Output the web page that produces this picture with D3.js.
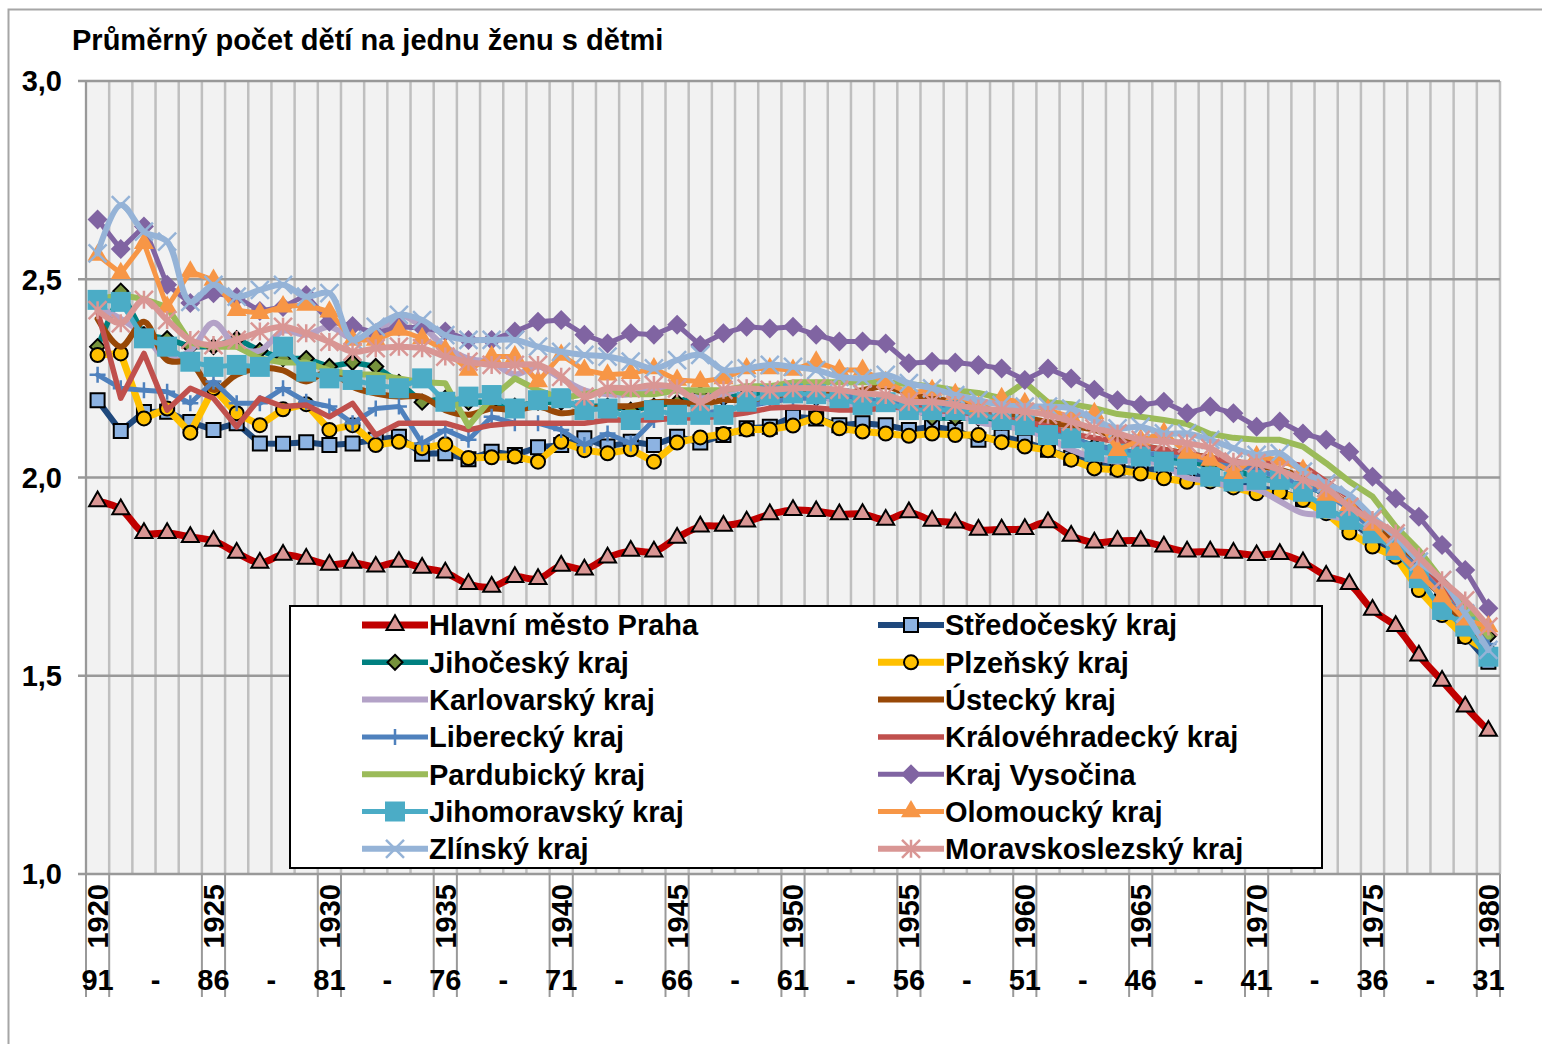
<!DOCTYPE html>
<html>
<head>
<meta charset="utf-8">
<script src="https://cdn.jsdelivr.net/npm/d3@7"></script>
<style>
	body { margin: 0; background: #fff; }
	text { font-family: "Liberation Sans", Arial, sans-serif; font-weight: bold; fill: #000; }
</style>
</head>
<body>
<svg id="chart" width="1542" height="1044"></svg>
<script>
// categories: 1920 .. 1980
const years = d3.range(1920, 1981);
const labelYears = [1920, 1925, 1930, 1935, 1940, 1945, 1950, 1955, 1960, 1965, 1970, 1975, 1980];
const cohortLabels = ["91", "86", "81", "76", "71", "66", "61", "56", "51", "46", "41", "36", "31"];
const yTicks = [1.0, 1.5, 2.0, 2.5, 3.0];

const praha = [1.94, 1.92, 1.86, 1.86, 1.85, 1.84, 1.81, 1.785, 1.805, 1.795,
	1.78, 1.785, 1.775, 1.787, 1.772, 1.76, 1.731, 1.724, 1.749, 1.744,
	1.777, 1.768, 1.798, 1.815, 1.813, 1.848, 1.876, 1.878, 1.889, 1.907,
	1.918, 1.915, 1.907, 1.908, 1.893, 1.912, 1.891, 1.886, 1.868, 1.869,
	1.87, 1.887, 1.853, 1.836, 1.84, 1.84, 1.826, 1.813, 1.813, 1.81,
	1.804, 1.807, 1.786, 1.752, 1.731, 1.666, 1.625, 1.551, 1.487, 1.422, 1.361];
const stredocesky = [2.195, 2.117, 2.165, 2.166, 2.14, 2.12, 2.137, 2.086, 2.085, 2.089,
	2.082, 2.086, 2.095, 2.103, 2.06, 2.061, 2.046, 2.065, 2.057, 2.076,
	2.082, 2.099, 2.078, 2.09, 2.082, 2.103, 2.088, 2.107, 2.124, 2.128,
	2.153, 2.149, 2.132, 2.137, 2.132, 2.12, 2.128, 2.12, 2.095, 2.103,
	2.09, 2.07, 2.05, 2.04, 2.025, 2.02, 2.02, 2.015, 2.0, 1.985,
	1.975, 1.965, 1.945, 1.92, 1.89, 1.85, 1.81, 1.76, 1.70, 1.60, 1.535];
const jihocesky = [2.33, 2.47, 2.36, 2.35, 2.33, 2.33, 2.35, 2.32, 2.30, 2.30,
	2.28, 2.29, 2.28, 2.24, 2.19, 2.20, 2.19, 2.19, 2.18, 2.19,
	2.19, 2.18, 2.18, 2.17, 2.18, 2.19, 2.21, 2.20, 2.21, 2.21,
	2.21, 2.20, 2.20, 2.19, 2.19, 2.18, 2.15, 2.15, 2.15, 2.14,
	2.13, 2.12, 2.10, 2.08, 2.07, 2.06, 2.05, 2.04, 2.03, 2.02,
	2.00, 1.99, 1.98, 1.96, 1.93, 1.88, 1.83, 1.79, 1.73, 1.66, 1.60];
const plzensky = [2.309, 2.313, 2.149, 2.174, 2.113, 2.225, 2.162, 2.132, 2.172, 2.185,
	2.12, 2.132, 2.082, 2.09, 2.074, 2.084, 2.049, 2.051, 2.053, 2.04,
	2.09, 2.069, 2.061, 2.071, 2.04, 2.088, 2.101, 2.11, 2.121, 2.121,
	2.131, 2.151, 2.124, 2.116, 2.111, 2.105, 2.111, 2.107, 2.107, 2.089,
	2.078, 2.069, 2.045, 2.023, 2.019, 2.01, 1.998, 1.989, 1.99, 1.975,
	1.96, 1.962, 1.943, 1.91, 1.861, 1.826, 1.80, 1.716, 1.653, 1.598, 1.56];
const karlovarsky = [2.43, 2.40, 2.36, 2.30, 2.32, 2.39, 2.33, 2.32, 2.37, 2.36,
	2.38, 2.35, 2.36, 2.41, 2.38, 2.33, 2.30, 2.29, 2.26, 2.28,
	2.25, 2.22, 2.21, 2.21, 2.22, 2.22, 2.20, 2.21, 2.23, 2.22,
	2.22, 2.21, 2.19, 2.18, 2.18, 2.17, 2.16, 2.16, 2.14, 2.13,
	2.12, 2.10, 2.07, 2.05, 2.04, 2.045, 2.03, 2.00, 1.99, 1.975,
	1.97, 1.94, 1.91, 1.905, 1.89, 1.86, 1.82, 1.78, 1.72, 1.65, 1.57];
const ustecky = [2.40, 2.33, 2.393, 2.296, 2.29, 2.221, 2.259, 2.276, 2.27, 2.242,
	2.27, 2.229, 2.212, 2.204, 2.204, 2.17, 2.158, 2.174, 2.17, 2.179,
	2.162, 2.17, 2.18, 2.18, 2.19, 2.19, 2.185, 2.195, 2.195, 2.20,
	2.21, 2.21, 2.21, 2.22, 2.23, 2.21, 2.20, 2.19, 2.18, 2.16,
	2.15, 2.14, 2.13, 2.12, 2.10, 2.08, 2.07, 2.06, 2.05, 2.04,
	2.03, 2.02, 2.00, 1.97, 1.93, 1.88, 1.83, 1.77, 1.70, 1.63, 1.57];
const liberecky = [2.259, 2.225, 2.22, 2.216, 2.187, 2.242, 2.187, 2.187, 2.225, 2.191,
	2.179, 2.137, 2.174, 2.179, 2.086, 2.12, 2.095, 2.153, 2.137, 2.137,
	2.12, 2.082, 2.111, 2.086, 2.145, 2.153, 2.16, 2.17, 2.18, 2.19,
	2.20, 2.20, 2.21, 2.20, 2.19, 2.19, 2.18, 2.17, 2.16, 2.15,
	2.14, 2.12, 2.10, 2.08, 2.07, 2.06, 2.06, 2.05, 2.04, 2.03,
	2.02, 2.00, 1.98, 1.96, 1.92, 1.87, 1.82, 1.77, 1.71, 1.64, 1.58];
const kralovehradecky = [2.42, 2.20, 2.313, 2.17, 2.225, 2.20, 2.128, 2.20, 2.179, 2.183,
	2.153, 2.187, 2.107, 2.137, 2.137, 2.137, 2.12, 2.132, 2.137, 2.137,
	2.137, 2.137, 2.145, 2.145, 2.145, 2.15, 2.15, 2.155, 2.163, 2.175,
	2.178, 2.175, 2.17, 2.17, 2.175, 2.18, 2.17, 2.165, 2.16, 2.15,
	2.14, 2.13, 2.11, 2.10, 2.09, 2.08, 2.07, 2.06, 2.05, 2.04,
	2.035, 2.04, 2.03, 1.99, 1.95, 1.90, 1.85, 1.79, 1.73, 1.66, 1.60];
const pardubicky = [2.45, 2.46, 2.45, 2.43, 2.34, 2.33, 2.33, 2.30, 2.29, 2.29,
	2.27, 2.26, 2.26, 2.25, 2.24, 2.238, 2.13, 2.20, 2.25, 2.22,
	2.20, 2.21, 2.22, 2.21, 2.21, 2.22, 2.22, 2.22, 2.23, 2.23,
	2.24, 2.24, 2.24, 2.24, 2.24, 2.235, 2.23, 2.22, 2.213, 2.20,
	2.24, 2.19, 2.185, 2.175, 2.16, 2.153, 2.145, 2.135, 2.11, 2.10,
	2.095, 2.095, 2.078, 2.036, 1.99, 1.952, 1.876, 1.817, 1.741, 1.674, 1.599];
const vysocina = [2.651, 2.576, 2.633, 2.486, 2.44, 2.465, 2.455, 2.42, 2.43, 2.46,
	2.393, 2.382, 2.364, 2.38, 2.377, 2.368, 2.347, 2.347, 2.368, 2.393,
	2.397, 2.36, 2.338, 2.364, 2.36, 2.385, 2.334, 2.364, 2.38, 2.376,
	2.38, 2.36, 2.343, 2.343, 2.338, 2.288, 2.292, 2.29, 2.284, 2.275,
	2.246, 2.275, 2.25, 2.221, 2.195, 2.183, 2.191, 2.162, 2.179, 2.162,
	2.128, 2.141, 2.111, 2.095, 2.065, 2.002, 1.947, 1.901, 1.83, 1.767, 1.67];
const jihomoravsky = [2.448, 2.443, 2.351, 2.33, 2.292, 2.279, 2.284, 2.279, 2.33, 2.267,
	2.25, 2.246, 2.233, 2.225, 2.25, 2.191, 2.204, 2.208, 2.174, 2.195,
	2.20, 2.17, 2.174, 2.145, 2.17, 2.158, 2.158, 2.158, 2.191, 2.208,
	2.212, 2.21, 2.20, 2.183, 2.19, 2.17, 2.17, 2.17, 2.16, 2.145,
	2.132, 2.107, 2.099, 2.065, 2.06, 2.053, 2.04, 2.032, 2.002, 1.99,
	1.994, 1.994, 1.964, 1.922, 1.893, 1.859, 1.817, 1.746, 1.666, 1.624, 1.548];
const olomoucky = [2.561, 2.515, 2.591, 2.43, 2.519, 2.498, 2.422, 2.414, 2.431, 2.435,
	2.418, 2.347, 2.347, 2.372, 2.351, 2.322, 2.271, 2.305, 2.305, 2.242,
	2.309, 2.271, 2.259, 2.263, 2.275, 2.246, 2.242, 2.25, 2.275, 2.275,
	2.271, 2.292, 2.271, 2.271, 2.24, 2.213, 2.22, 2.21, 2.179, 2.20,
	2.187, 2.17, 2.153, 2.162, 2.069, 2.095, 2.112, 2.062, 2.044, 2.011,
	2.053, 2.044, 2.019, 1.956, 1.93, 1.88, 1.817, 1.759, 1.70, 1.641, 1.624];
const zlinsky = [2.565, 2.687, 2.62, 2.595, 2.443, 2.486, 2.456, 2.473, 2.486, 2.456,
	2.465, 2.347, 2.38, 2.41, 2.397, 2.359, 2.347, 2.347, 2.347, 2.33,
	2.317, 2.309, 2.305, 2.292, 2.275, 2.296, 2.309, 2.271, 2.275, 2.284,
	2.279, 2.271, 2.254, 2.25, 2.259, 2.238, 2.225, 2.208, 2.195, 2.183,
	2.179, 2.179, 2.174, 2.145, 2.124, 2.128, 2.111, 2.111, 2.095, 2.074,
	2.057, 2.061, 2.015, 1.985, 1.956, 1.901, 1.851, 1.788, 1.741, 1.657, 1.565];
const moravskoslezsky = [2.422, 2.389, 2.448, 2.397, 2.347, 2.334, 2.347, 2.368, 2.38, 2.364,
	2.342, 2.317, 2.326, 2.33, 2.326, 2.305, 2.292, 2.284, 2.284, 2.284,
	2.254, 2.204, 2.225, 2.225, 2.233, 2.225, 2.191, 2.221, 2.225, 2.221,
	2.225, 2.225, 2.221, 2.212, 2.208, 2.191, 2.191, 2.183, 2.174, 2.17,
	2.166, 2.158, 2.141, 2.124, 2.111, 2.095, 2.091, 2.086, 2.074, 2.04,
	2.036, 2.019, 1.994, 1.973, 1.926, 1.893, 1.859, 1.80, 1.741, 1.69, 1.624];

const series = [
	{ name: "Hlavní město Praha", values: praha, color: "#C00000", width: 7, marker: "triangle", size: 17, fill: "#DA9694", stroke: "#000", smooth: true },
	{ name: "Středočeský kraj", values: stredocesky, color: "#1F497D", width: 6, marker: "square", size: 14, fill: "#8DB3E2", stroke: "#000" },
	{ name: "Jihočeský kraj", values: jihocesky, color: "#008080", width: 5.5, marker: "diamond", size: 15, fill: "#77933C", stroke: "#000" },
	{ name: "Plzeňský kraj", values: plzensky, color: "#FFC000", width: 7, marker: "circle", size: 14, fill: "#FFC000", stroke: "#000" },
	{ name: "Karlovarský kraj", values: karlovarsky, color: "#B3A2C7", width: 6, marker: null, smooth: true },
	{ name: "Ústecký kraj", values: ustecky, color: "#984807", width: 6, marker: null, smooth: true },
	{ name: "Liberecký kraj", values: liberecky, color: "#4F81BD", width: 5, marker: "plus", size: 16 },
	{ name: "Královéhradecký kraj", values: kralovehradecky, color: "#C0504D", width: 5.5, marker: null },
	{ name: "Pardubický kraj", values: pardubicky, color: "#9BBB59", width: 6, marker: null },
	{ name: "Kraj Vysočina", values: vysocina, color: "#8064A2", width: 5, marker: "diamond", size: 20, fill: "#8064A2" },
	{ name: "Jihomoravský kraj", values: jihomoravsky, color: "#4BACC6", width: 5, marker: "square", size: 20, fill: "#4BACC6" },
	{ name: "Olomoucký kraj", values: olomoucky, color: "#F79646", width: 5, marker: "triangle", size: 20, fill: "#F79646" },
	{ name: "Zlínský kraj", values: zlinsky, color: "#95B3D7", width: 6, marker: "x", size: 18, smooth: true },
	{ name: "Moravskoslezský kraj", values: moravskoslezsky, color: "#D99694", width: 6, marker: "star", size: 18, smooth: true }
];

const fontSize = "29px";
const svg = d3.select("#chart");
const plot = { left: 86, right: 1500, top: 81, bottom: 874 };

const x = d3.scaleBand().domain(years).range([plot.left, plot.right]).padding(0);
const cx = d => x(d) + x.bandwidth() / 2;
const y = d3.scaleLinear().domain([1, 3]).range([plot.bottom, plot.top]);

// outer chart frame
svg.append("rect")
	.attr("x", 8.5).attr("y", 9.5)
	.attr("width", 1545).attr("height", 1045)
	.attr("fill", "none").attr("stroke", "#a6a6a6").attr("stroke-width", 2);

svg.append("text")
	.attr("x", 72).attr("y", 50)
	.style("font-size", fontSize)
	.text("Průměrný počet dětí na jednu ženu s dětmi");

// plot background + grid
svg.append("rect")
	.attr("x", plot.left).attr("y", plot.top)
	.attr("width", plot.right - plot.left).attr("height", plot.bottom - plot.top)
	.attr("fill", "#f2f2f2");

const grid = svg.append("g");
grid.selectAll("line.v")
	.data(years.concat([null]))
	.join("line")
	.attr("x1", d => d === null ? plot.right : x(d))
	.attr("x2", d => d === null ? plot.right : x(d))
	.attr("y1", plot.top).attr("y2", plot.bottom)
	.attr("stroke", "#bfbfbf").attr("stroke-width", 2.5);

grid.selectAll("line.h")
	.data(yTicks)
	.join("line")
	.attr("x1", plot.left - 8).attr("x2", plot.right)
	.attr("y1", d => y(d)).attr("y2", d => y(d))
	.attr("stroke", "#999").attr("stroke-width", 2.5);

svg.append("line")
	.attr("x1", plot.left).attr("x2", plot.left)
	.attr("y1", plot.top).attr("y2", plot.bottom)
	.attr("stroke", "#999").attr("stroke-width", 2);

// y labels
svg.append("g").selectAll("text")
	.data(yTicks)
	.join("text")
	.attr("x", 62).attr("y", d => y(d))
	.attr("dy", "0.36em")
	.attr("text-anchor", "end")
	.style("font-size", fontSize)
	.text(d => d3.format(".1f")(d).replace(".", ","));

// x labels: years rotated + cohort row
const xAxis = svg.append("g");
labelYears.forEach(yr => {
	[x(yr), x(yr) + x.bandwidth()].forEach(px => {
		xAxis.append("line")
			.attr("x1", px).attr("x2", px)
			.attr("y1", plot.bottom).attr("y2", 997)
			.attr("stroke", "#999").attr("stroke-width", 2);
	});
	xAxis.append("text")
		.attr("transform", `translate(${cx(yr)},884) rotate(-90)`)
		.attr("dy", "0.36em")
		.attr("text-anchor", "end")
		.style("font-size", fontSize)
		.text(yr);
});
xAxis.selectAll("text.coh")
	.data(cohortLabels)
	.join("text")
	.attr("class", "coh")
	.attr("x", (d, i) => cx(labelYears[i]))
	.attr("y", 990)
	.attr("text-anchor", "middle")
	.style("font-size", fontSize)
	.text(d => d);
xAxis.selectAll("text.dash")
	.data(labelYears.slice(1))
	.join("text")
	.attr("class", "dash")
	.attr("x", (d, i) => (cx(labelYears[i]) + cx(d)) / 2)
	.attr("y", 990)
	.attr("text-anchor", "middle")
	.style("font-size", fontSize)
	.text("-");

function markerPath(type, s) {
	const r = s / 2;
	switch (type) {
		case "triangle": return d3.symbol(d3.symbolTriangle, Math.sqrt(3) / 4 * s * s)();
		case "square": return d3.symbol(d3.symbolSquare, s * s)();
		case "circle": return d3.symbol(d3.symbolCircle, Math.PI * r * r)();
		case "diamond": return `M0,${-r}L${r},0L0,${r}L${-r},0Z`;
		case "plus": return `M${-r},0H${r}M0,${-r}V${r}`;
		case "x": return `M${-r},${-r}L${r},${r}M${-r},${r}L${r},${-r}`;
		case "star": return `M${-r},${-r}L${r},${r}M${-r},${r}L${r},${-r}M0,${-r}V${r}`;
	}
	return null;
}
const strokeMarkers = ["plus", "x", "star"];

function drawMarkers(g, s, pts) {
	if (!s.marker) return;
	const path = markerPath(s.marker, s.size);
	const isStroke = strokeMarkers.includes(s.marker);
	g.selectAll("path.mk")
		.data(pts)
		.join("path")
		.attr("class", "mk")
		.attr("d", path)
		.attr("transform", d => `translate(${d[0]},${d[1]})`)
		.attr("fill", isStroke ? "none" : s.fill)
		.attr("stroke", isStroke ? s.color : (s.stroke || "none"))
		.attr("stroke-width", isStroke ? 2.5 : 2);
}

const linesGroup = svg.append("g");
series.forEach(s => {
	const g = linesGroup.append("g");
	const pts = s.values.map((v, i) => [cx(years[i]), y(v)]);
	const line = d3.line().curve(s.smooth ? d3.curveCatmullRom.alpha(0.5) : d3.curveLinear);
	g.append("path")
		.attr("d", line(pts))
		.attr("fill", "none")
		.attr("stroke", s.color)
		.attr("stroke-width", s.width)
		.attr("stroke-linejoin", "round")
		.attr("stroke-linecap", "round");
	drawMarkers(g, s, pts);
});

// legend
const legend = svg.append("g");
legend.append("rect")
	.attr("x", 290).attr("y", 606)
	.attr("width", 1032).attr("height", 262)
	.attr("fill", "#fff").attr("stroke", "#000").attr("stroke-width", 2);

series.forEach((s, i) => {
	const row = Math.floor(i / 2), col = i % 2;
	const x0 = col === 0 ? 362 : 878;
	const yy = 625 + row * 37.3;
	const g = legend.append("g");
	g.append("line")
		.attr("x1", x0).attr("x2", x0 + 66)
		.attr("y1", yy).attr("y2", yy)
		.attr("stroke", s.color).attr("stroke-width", s.width);
	drawMarkers(g, s, [[x0 + 33, yy]]);
	g.append("text")
		.attr("x", x0 + 67).attr("y", yy)
		.attr("dy", "0.36em")
		.style("font-size", fontSize)
		.text(s.name);
});
</script>
</body>
</html>
